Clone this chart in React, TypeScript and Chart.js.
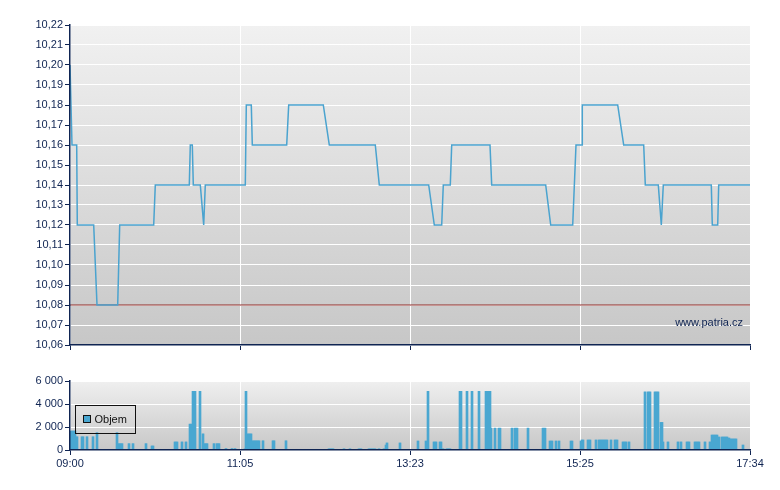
import React, { useEffect, useRef } from 'react';
import { Chart, registerables } from 'chart.js';

Chart.register(...registerables);

// ---------- DATA ----------
// x axis is a session index (0 .. 680 slots), labelled at quarter points
const sessionSlots = 680;
const xTickLabels = ['09:00', '11:05', '13:23', '15:25', '17:34'];

// price series (slot, price)
const priceX = [
  0, 2, 6.7, 7.3, 23.7, 27, 47.7, 49.7, 83.7, 85.3, 119.3, 120.3, 122.3, 123.3, 130.3, 133.7, 135.3,
  175.3, 176.3, 181.3, 182.3, 216.7, 218.7, 253.3, 259.3, 305.3, 309.3, 358.7, 364.3, 371.7, 373.3,
  380.3, 381.7, 420, 421.7, 475.7, 480.7, 502.7, 506, 512, 512.3, 547.7, 553.7, 573.7, 575.3, 588.3,
  591.3, 593.3, 641.3, 642.3, 647.7, 648.7, 680,
];
const priceY = [
  10.2, 10.16, 10.16, 10.12, 10.12, 10.08, 10.08, 10.12, 10.12, 10.14, 10.14, 10.16, 10.16, 10.14, 10.14, 10.12, 10.14,
  10.14, 10.18, 10.18, 10.16, 10.16, 10.18, 10.18, 10.16, 10.16, 10.14, 10.14, 10.12, 10.12, 10.14,
  10.14, 10.16, 10.16, 10.14, 10.14, 10.12, 10.12, 10.16, 10.16, 10.18, 10.18, 10.16, 10.16, 10.14, 10.14,
  10.12, 10.14, 10.14, 10.12, 10.12, 10.14, 10.14,
];
const refLevel = 10.08;
const priceMin = 10.06;
const priceMax = 10.22;
const priceStep = 0.01;

// volume: runs of slots [start, end) with a volume value
const volStart = [
  0, 6, 11, 16, 22, 26, 46, 48, 58, 62, 75, 81, 104, 111, 115, 119, 122, 129, 132, 134, 143, 146,
  155, 161, 164, 174, 175, 177, 182, 192, 202, 215, 258, 273, 279, 288, 298, 308, 313, 315, 316, 329,
  347, 355, 357, 363, 369, 372, 376, 389, 396, 401, 408, 415, 421, 424, 428, 441, 444, 457, 472,
  479, 485, 488, 500, 510, 511, 517, 525, 528, 540, 544, 552, 558, 574, 577, 584, 590, 593, 597,
  607, 610, 616, 624, 634, 639, 641, 648, 651, 655, 658, 660, 663, 672, 674,
];
const volEnd = [
  6, 8, 14, 18, 24, 28, 48, 53, 60, 64, 77, 84, 108, 113, 117, 122, 126, 131, 134, 138, 145, 150,
  157, 163, 166, 175, 177, 182, 190, 194, 205, 217, 264, 275, 281, 292, 306, 310, 315, 316, 318, 331,
  349, 357, 359, 367, 372, 374, 381, 392, 398, 403, 410, 421, 422, 426, 431, 443, 448, 459, 476,
  483, 487, 490, 503, 511, 514, 521, 527, 538, 542, 548, 557, 560, 576, 581, 589, 593, 594, 599,
  609, 612, 620, 630, 636, 641, 648, 650, 655, 658, 660, 663, 667, 674, 680,
];
const volValue = [
  1650, 1150, 1150, 1150, 1150, 1500, 1500, 550, 550, 550, 550, 350, 700, 700, 700, 2250, 5100, 5100,
  1400, 550, 550, 550, 120, 120, 120, 100, 5100, 1400, 800, 800, 800, 800, 100, 100, 100, 100, 100,
  100, 100, 430, 610, 610, 780, 780, 5100, 700, 700, 100, 100, 5100, 5100, 5100, 5100, 5100, 1900,
  1900, 1900, 1900, 1900, 1900, 1900, 780, 780, 780, 780, 780, 870, 870, 870, 870, 870, 870, 700,
  700, 5050, 5050, 5050, 2400, 700, 700, 700, 700, 700, 700, 700, 700, 1300, 1130, 1130, 1130, 1040,
  960, 960, 430,
];
const volMax = 6000;
const volStep = 2000;
const volLabel = 'Objem';
const watermark = 'www.patria.cz';

// ---------- STYLE ----------
const NAVY = '#0f2452';
const BLUE = '#4aa7d1';
const FONT = { family: '"Liberation Sans", Arial, sans-serif', size: 11 };

const fmtThousands = (v: number) => String(Math.round(v)).replace(/\B(?=(\d{3})+(?!\d))/g, ' ');

function bgPlugin(top: string, bottom: string) {
  return {
    id: 'bgGradient',
    beforeDraw(chart: any) {
      const { ctx, chartArea: a } = chart;
      const g = ctx.createLinearGradient(0, a.top, 0, a.bottom);
      g.addColorStop(0, top);
      g.addColorStop(1, bottom);
      ctx.save();
      ctx.fillStyle = g;
      ctx.fillRect(a.left, a.top, a.right - a.left, a.bottom - a.top);
      ctx.restore();
    },
  };
}

const watermarkPlugin = {
  id: 'watermark',
  afterDraw(chart: any) {
    const { ctx, chartArea: a } = chart;
    ctx.save();
    ctx.font = `${FONT.size}px ${FONT.family}`;
    ctx.fillStyle = NAVY;
    ctx.textAlign = 'right';
    ctx.textBaseline = 'middle';
    ctx.fillText(watermark, a.right - 7, a.bottom - 22);
    ctx.restore();
  },
};

const boxLegendPlugin = {
  id: 'boxLegend',
  afterDraw(chart: any) {
    const { ctx, chartArea: a } = chart;
    const ds = chart.data.datasets[0];
    const x = a.left + 5.5;
    const y = a.top + 24.5;
    ctx.save();
    ctx.strokeStyle = '#111';
    ctx.lineWidth = 1;
    ctx.strokeRect(x, y, 60, 28);
    ctx.fillStyle = ds.backgroundColor;
    ctx.fillRect(x + 8, y + 10, 7, 7);
    ctx.strokeRect(x + 8, y + 10, 7, 7);
    ctx.font = `${FONT.size}px ${FONT.family}`;
    ctx.fillStyle = '#111';
    ctx.textBaseline = 'middle';
    ctx.fillText(ds.label, x + 19, y + 14.5);
    ctx.restore();
  },
};

function xAxis(showLabels: boolean, height: number) {
  return {
    type: 'linear',
    min: 0,
    max: sessionSlots,
    offset: false,
    afterFit: (s: any) => {
      s.height = height;
    },
    afterBuildTicks: (s: any) => {
      s.ticks = xTickLabels.map((_, i) => ({ value: (sessionSlots / (xTickLabels.length - 1)) * i }));
    },
    ticks: {
      autoSkip: false,
      maxRotation: 0,
      padding: 2,
      color: showLabels ? NAVY : 'rgba(0,0,0,0)',
      font: FONT,
      callback: (v: number) => xTickLabels[Math.round(v / (sessionSlots / (xTickLabels.length - 1)))],
    },
    grid: { color: '#ffffff', lineWidth: 1, tickColor: NAVY, tickLength: 5, offset: false },
    border: { color: NAVY, width: 1.5, z: 1 },
  };
}

export default function App() {
  const priceRef = useRef<HTMLCanvasElement>(null);
  const volRef = useRef<HTMLCanvasElement>(null);

  useEffect(() => {
    const priceData = priceX.map((x, i) => ({ x, y: priceY[i] }));
    const volData: { x: number; y: number }[] = [];
    volStart.forEach((s, i) => {
      for (let k = s; k < volEnd[i]; k++) volData.push({ x: k + 0.5, y: volValue[i] });
    });

    const priceChart = new Chart(priceRef.current!, {
      type: 'line',
      data: {
        datasets: [
          {
            label: 'Cena',
            data: priceData,
            borderColor: '#4aa3cf',
            borderWidth: 1.5,
            pointRadius: 0,
            tension: 0,
            fill: false,
          },
          {
            label: 'ref',
            data: [
              { x: 0, y: refLevel },
              { x: sessionSlots, y: refLevel },
            ],
            borderColor: '#8e2a26',
            borderWidth: 1,
            pointRadius: 0,
            fill: false,
          },
        ],
      },
      options: {
        responsive: false,
        animation: false,
        parsing: true,
        layout: { padding: { top: 25, right: 30, left: 0, bottom: 0 } },
        plugins: { legend: { display: false }, tooltip: { enabled: false } },
        scales: {
          x: xAxis(false, 15) as any,
          y: {
            type: 'linear',
            min: priceMin,
            max: priceMax,
            afterFit: (s: any) => {
              s.width = 70;
            },
            ticks: {
              stepSize: priceStep,
              color: NAVY,
              font: FONT,
              padding: 2,
              callback: (v: any) => Number(v).toFixed(2).replace('.', ','),
            },
            grid: { color: '#ffffff', lineWidth: 1, tickColor: NAVY, tickLength: 5 },
            border: { color: NAVY, width: 1.5, z: 1 },
          },
        },
      },
      plugins: [bgPlugin('#f1f1f1', '#c7c7c7'), watermarkPlugin],
    } as any);

    const volChart = new Chart(volRef.current!, {
      type: 'bar',
      data: {
        datasets: [
          {
            label: volLabel,
            data: volData,
            backgroundColor: BLUE,
            borderWidth: 0,
            barPercentage: 1,
            categoryPercentage: 1,
            grouped: false,
          },
        ],
      },
      options: {
        responsive: false,
        animation: false,
        layout: { padding: { top: 21, right: 30, left: 0, bottom: 0 } },
        plugins: { legend: { display: false }, tooltip: { enabled: false } },
        scales: {
          x: xAxis(true, 40) as any,
          y: {
            type: 'linear',
            min: 0,
            max: volMax,
            afterFit: (s: any) => {
              s.width = 70;
            },
            ticks: {
              stepSize: volStep,
              color: NAVY,
              font: FONT,
              padding: 2,
              callback: (v: any) => fmtThousands(Number(v)),
            },
            grid: { color: '#ffffff', lineWidth: 1, tickColor: NAVY, tickLength: 5 },
            border: { color: NAVY, width: 1.5, z: 1 },
          },
        },
      },
      plugins: [bgPlugin('#efefef', '#c8c8c8'), boxLegendPlugin],
    } as any);

    return () => {
      priceChart.destroy();
      volChart.destroy();
    };
  }, []);

  return (
    <div style={{ position: 'absolute', left: 0, top: 0, width: 780, height: 490, background: '#fff' }}>
      <canvas ref={priceRef} width={780} height={360} style={{ position: 'absolute', left: 0, top: 0, display: 'block' }} />
      <canvas ref={volRef} width={780} height={130} style={{ position: 'absolute', left: 0, top: 360, display: 'block' }} />
    </div>
  );
}
